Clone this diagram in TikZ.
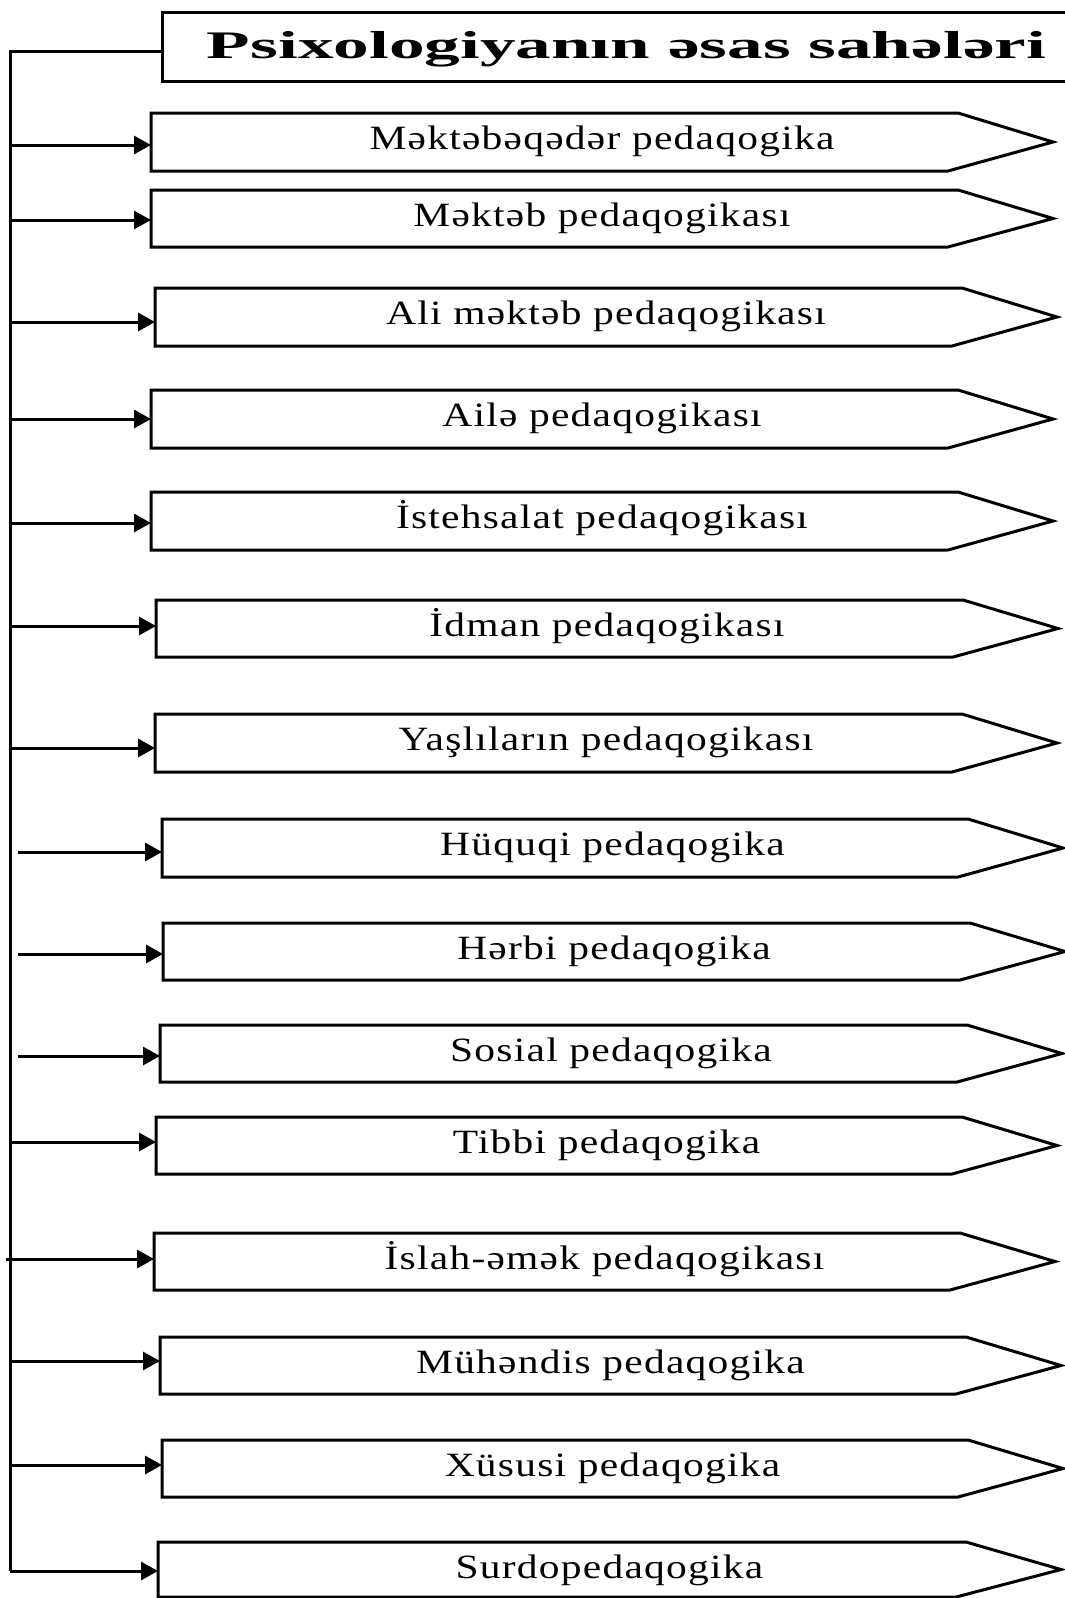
\documentclass[tikz,border=0pt]{standalone}
\usepackage{fontspec}
\setmainfont{Liberation Serif}
\newfontfamily\boxfont[LetterSpace=3]{Liberation Serif}
\usetikzlibrary{arrows.meta}
\newcommand\txtscale{1.22}
\tikzset{
  boxline/.style={draw=black, line width=3pt, line join=miter},
  lbl/.style={anchor=base, inner sep=0pt, font=\boxfont\fontsize{34}{40}\selectfont},
  conn/.style={draw=black, line width=3pt, -{Triangle[length=17pt,width=18pt]}},
  spine/.style={draw=black, line width=3pt, line join=miter}
}
\newcommand\pedbox[8]{%
  \draw[boxline] (#2,#3) -- (#5-95,#3) -- (#5,{(#3+#4)/2}) -- (#5-105,#4) -- (#2,#4) -- cycle;
  \node[lbl] (#1) at ({(#2+#5)/2},#3+36.5) {\scalebox{\txtscale}[1]{#8}};
  \coordinate (#1in) at (#2,#6);
  \coordinate (#1out) at (#7,#6);
  \draw[conn] (#1out) -- (#1in);
}
\begin{document}
\begin{tikzpicture}[x=1pt,y=-1pt]
\useasboundingbox (0,0) rectangle (1065,1598);
\clip (0,0) rectangle (1065,1598);
\fill[white] (0,0) rectangle (1065,1598);
% title
\node[draw=black, line width=3pt, minimum width=914pt, minimum height=69pt, inner sep=0pt, anchor=north west] (tbox) at (161,11) {};
\node[anchor=base, inner sep=0pt, font=\fontsize{39}{44}\selectfont\bfseries] (ttl) at (626.5,58) {\resizebox{839pt}{\height}{Psixologiyanın əsas sahələri}};
\coordinate (spTop) at (10,51);
\coordinate (spBot) at (10,1571);
\draw[spine] (tbox.west |- spTop) -- (spTop) -- (spBot);
% boxes: name, left, top, bottom, tip, arrow y, arrow start x, text
\pedbox{b1}{151}{113}{171}{1053}{145}{10}{Məktəbəqədər pedaqogika}
\pedbox{b2}{151}{190}{247}{1053}{220}{10}{Məktəb pedaqogikası}
\pedbox{b3}{155}{288}{346}{1057}{322}{10}{Ali məktəb pedaqogikası}
\pedbox{b4}{151}{390}{448}{1053}{419}{10}{Ailə pedaqogikası}
\pedbox{b5}{151}{492}{550}{1053}{523}{10}{İstehsalat pedaqogikası}
\pedbox{b6}{156}{600}{657}{1058}{626}{10}{İdman pedaqogikası}
\pedbox{b7}{155}{714}{772}{1057}{748}{10}{Yaşlıların pedaqogikası}
\pedbox{b8}{162}{819}{877}{1063}{852}{18}{Hüquqi pedaqogika}
\pedbox{b9}{163}{923}{980}{1065}{954}{18}{Hərbi pedaqogika}
\pedbox{b10}{160}{1025}{1082}{1062}{1056}{18}{Sosial pedaqogika}
\pedbox{b11}{156}{1117}{1174}{1057}{1142}{10}{Tibbi pedaqogika}
\pedbox{b12}{154}{1233}{1290}{1055}{1259}{6}{İslah-əmək pedaqogikası}
\pedbox{b13}{160}{1337}{1394}{1061}{1361}{10}{Mühəndis pedaqogika}
\pedbox{b14}{162}{1440}{1497}{1063}{1465}{10}{Xüsusi pedaqogika}
\pedbox{b15}{158}{1542}{1597}{1061}{1571}{10}{Surdopedaqogika}
\end{tikzpicture}
\end{document}
